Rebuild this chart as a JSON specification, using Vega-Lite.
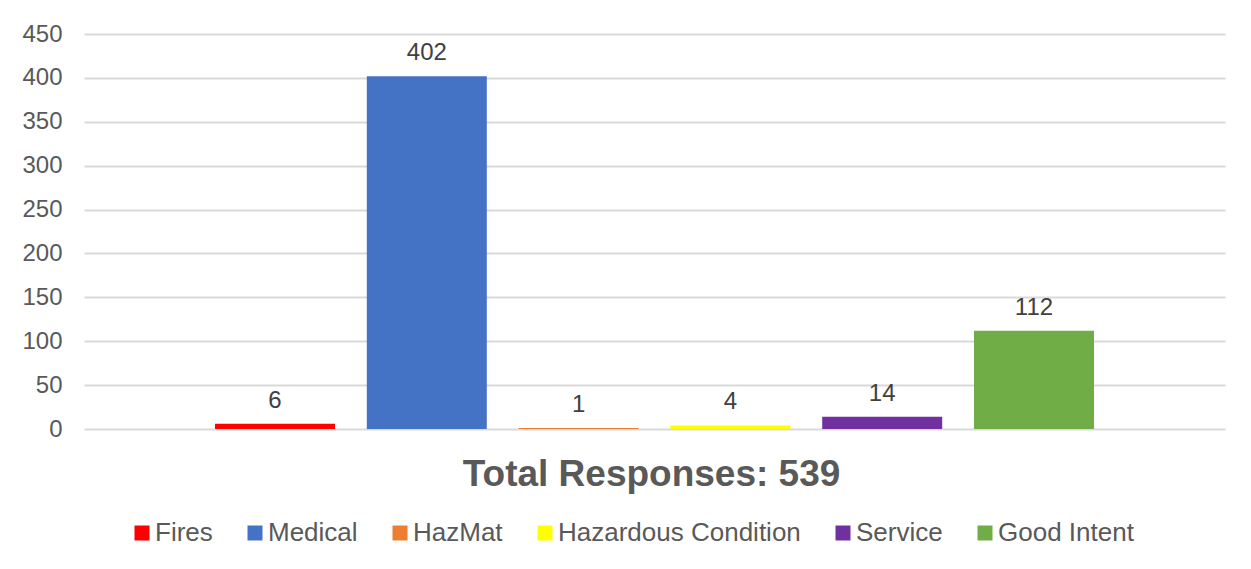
{
  "$schema": "https://vega.github.io/schema/vega-lite/v6.json",
  "autosize": "none",
  "width": 1141,
  "height": 395,
  "padding": {"left": 84, "top": 34, "right": 26, "bottom": 140},
  "background": "white",
  "config": {
    "font": "Liberation Sans",
    "view": {"stroke": null}
  },
  "data": {
    "values": [
      {"type": "Fires", "count": 6},
      {"type": "Medical", "count": 402},
      {"type": "HazMat", "count": 1},
      {"type": "Hazardous Condition", "count": 4},
      {"type": "Service", "count": 14},
      {"type": "Good Intent", "count": 112}
    ]
  },
  "encoding": {
    "x": {
      "field": "type",
      "type": "nominal",
      "sort": ["Fires", "Medical", "HazMat", "Hazardous Condition", "Service", "Good Intent"],
      "scale": {"paddingInner": 0.2095, "paddingOuter": 0.863},
      "axis": {
        "labels": false,
        "ticks": false,
        "domain": false,
        "grid": false,
        "title": "Total Responses: 539",
        "titleFontSize": 37,
        "titleFontWeight": "bold",
        "titleColor": "#595959",
        "titlePadding": 27,
        "titleFont": "Liberation Sans",
        "titleX": 567
      }
    },
    "y": {
      "field": "count",
      "type": "quantitative",
      "scale": {"domain": [0, 450], "nice": false},
      "axis": {
        "values": [0, 50, 100, 150, 200, 250, 300, 350, 400, 450],
        "title": null,
        "domain": false,
        "ticks": false,
        "tickSize": 0,
        "labelPadding": 22,
        "labelFontSize": 24,
        "labelColor": "#595959",
        "labelFont": "Liberation Sans",
        "gridColor": "#d9d9d9",
        "gridWidth": 2
      }
    }
  },
  "layer": [
    {
      "mark": {"type": "bar"},
      "encoding": {
        "color": {
          "field": "type",
          "type": "nominal",
          "sort": ["Fires", "Medical", "HazMat", "Hazardous Condition", "Service", "Good Intent"],
          "scale": {
            "domain": ["Fires", "Medical", "HazMat", "Hazardous Condition", "Service", "Good Intent"],
            "range": ["#FF0000", "#4472C4", "#ED7D31", "#FFFF00", "#7030A0", "#70AD47"]
          },
          "legend": {
            "orient": "none",
            "legendX": 45,
            "legendY": 486,
            "direction": "horizontal",
            "title": null,
            "symbolType": "square",
            "symbolSize": 225,
            "symbolStrokeWidth": 0,
            "symbolOpacity": 1,
            "labelFontSize": 26,
            "labelColor": "#595959",
            "labelFont": "Liberation Sans",
            "labelOffset": 0,
            "columnPadding": 29,
            "labelLimit": 400
          }
        }
      }
    },
    {
      "mark": {"type": "text", "baseline": "alphabetic", "dy": -16, "fontSize": 24, "color": "#404040", "font": "Liberation Sans"},
      "encoding": {
        "text": {"field": "count", "type": "quantitative"}
      }
    }
  ]
}
